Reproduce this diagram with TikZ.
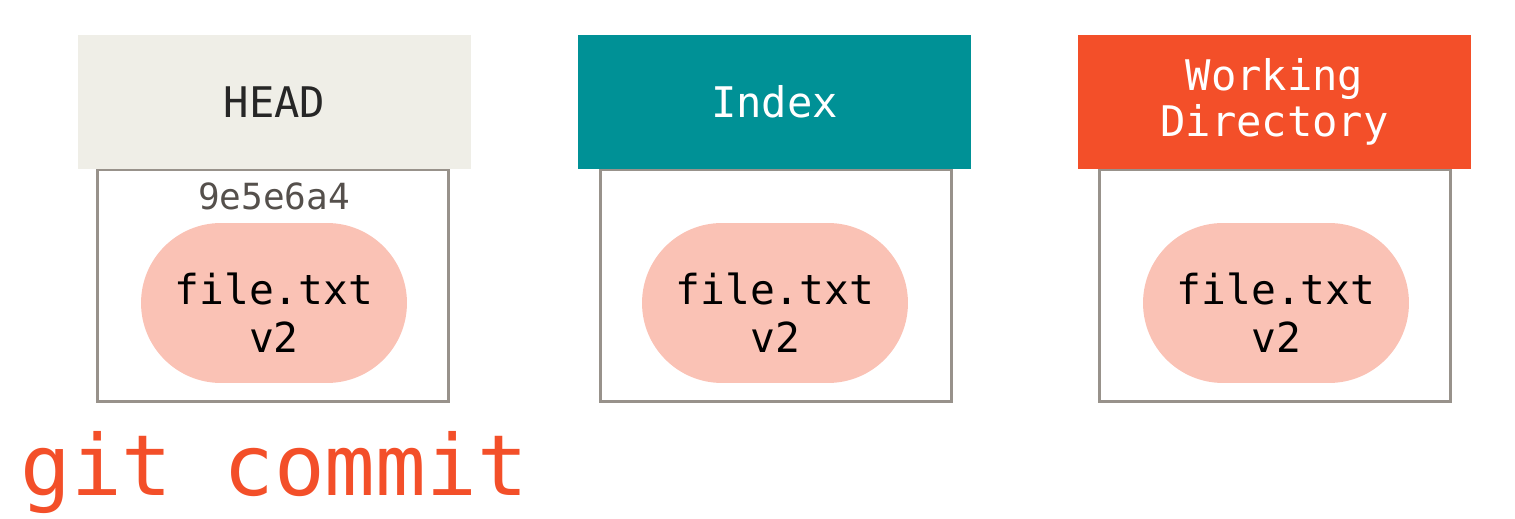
\documentclass[tikz,border=0pt]{standalone}
\usepackage{fontspec}
\setmonofont{DejaVu Sans Mono}
\definecolor{headgray}{RGB}{239,238,231}
\definecolor{indexteal}{RGB}{0,145,150}
\definecolor{workred}{RGB}{243,79,41}
\definecolor{pillpink}{RGB}{250,194,181}
\definecolor{boxgray}{RGB}{152,146,139}
\definecolor{hashgray}{RGB}{85,80,76}
\tikzset{
  areabox/.style={draw=boxgray,line width=0.06cm,minimum width=7.02cm,minimum height=4.66cm,inner sep=0pt},
  areahead/.style={minimum width=7.86cm,minimum height=2.68cm,inner sep=0pt,align=center,
    font=\ttfamily\fontsize{24}{26.2}\selectfont},
  filepill/.style={fill=pillpink,rounded corners=1.6cm,minimum width=5.32cm,minimum height=3.2cm,inner sep=0pt},
  filetext/.style={align=center,inner sep=0pt,font=\ttfamily\fontsize{23.5}{27.3}\selectfont}
}
\begin{document}
\begin{tikzpicture}[x=0.02cm,y=-0.02cm]
  \useasboundingbox (0,0) rectangle (1515,519);
  % HEAD
  \path (273,285.5) node[areabox] (headbox) {};
  \path (274.5,102) node[areahead,fill=headgray,text=black!85] (head) {HEAD};
  \path (274,196) node[font=\ttfamily\fontsize{20.5}{24}\selectfont,text=hashgray] (hash) {9e5e6a4};
  \path (274,303) node[filepill] (headfile) {};
  \path (274,313) node[filetext] (headfiletext) {file.txt\\v2};
  % Index
  \path (776,285.5) node[areabox] (indexbox) {};
  \path (774.5,102) node[areahead,fill=indexteal,text=white] (index) {Index};
  \path (775,303) node[filepill] (indexfile) {};
  \path (775,313) node[filetext] (indexfiletext) {file.txt\\v2};
  % Working Directory
  \path (1275,285.5) node[areabox] (workbox) {};
  \path (1274.5,102) node[areahead,fill=workred,text=white] (work) {Working\\Directory};
  \path (1276,303) node[filepill] (workfile) {};
  \path (1276,313) node[filetext] (workfiletext) {file.txt\\v2};
  % command
  \path (20,496) node[anchor=base west,inner sep=0pt,text=workred,
    font=\ttfamily\fontsize{48}{52}\selectfont] (cmd) {git commit};
\end{tikzpicture}
\end{document}
